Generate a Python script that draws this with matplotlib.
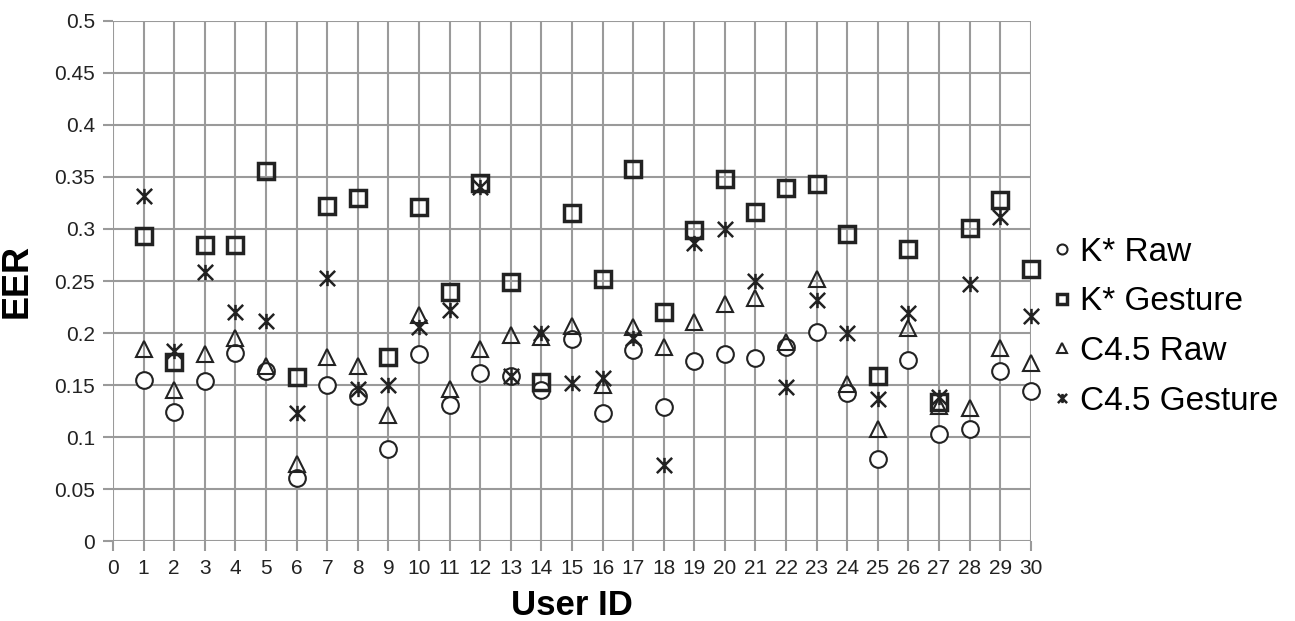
import matplotlib.pyplot as plt
from matplotlib.path import Path

plt.rcParams['font.family'] = ['Liberation Sans', 'DejaVu Sans']

users = list(range(1, 31))

# EER par utilisateur
kstar_raw = [0.155, 0.124, 0.154, 0.181, 0.163, 0.061, 0.150, 0.139, 0.088, 0.180,
             0.131, 0.162, 0.159, 0.145, 0.194, 0.123, 0.184, 0.129, 0.173, 0.180,
             0.176, 0.187, 0.201, 0.142, 0.079, 0.174, 0.103, 0.108, 0.163, 0.144]
kstar_gesture = [0.293, 0.172, 0.285, 0.285, 0.356, 0.158, 0.322, 0.330, 0.177, 0.321,
                 0.239, 0.344, 0.249, 0.153, 0.315, 0.252, 0.358, 0.220, 0.299, 0.348,
                 0.316, 0.339, 0.343, 0.295, 0.159, 0.281, 0.134, 0.301, 0.328, 0.262]
c45_raw = [0.185, 0.145, 0.180, 0.195, 0.168, 0.074, 0.177, 0.168, 0.121, 0.217,
           0.146, 0.185, 0.198, 0.196, 0.207, 0.150, 0.206, 0.187, 0.211, 0.228,
           0.234, 0.191, 0.252, 0.151, 0.108, 0.205, 0.130, 0.128, 0.186, 0.171]
c45_gesture = [0.332, 0.183, 0.259, 0.220, 0.212, 0.123, 0.253, 0.146, 0.150, 0.206,
               0.222, 0.340, 0.159, 0.200, 0.152, 0.157, 0.195, 0.073, 0.287, 0.300,
               0.250, 0.148, 0.232, 0.200, 0.137, 0.219, 0.138, 0.247, 0.312, 0.216]

# marqueur "étoile" façon Excel : un x plus un trait vertical
star = Path([(-1, -1), (1, 1), (-1, 1), (1, -1), (0, -1), (0, 1)],
            [Path.MOVETO, Path.LINETO, Path.MOVETO, Path.LINETO, Path.MOVETO, Path.LINETO])

fig = plt.figure(figsize=(12.95, 6.21), dpi=100)
ax = fig.add_axes([0.0873, 0.1288, 0.7087, 0.8374])

ink = '#222222'
ax.plot(users, kstar_raw, ls='none', marker='o', ms=12, mfc='white', mec=ink, mew=1.5,
        label='K* Raw', clip_on=False, zorder=3)
ax.plot(users, kstar_gesture, ls='none', marker='s', ms=12, mfc='none', mec=ink, mew=2.5,
        label='K* Gesture', clip_on=False, zorder=4)
ax.plot(users, c45_raw, ls='none', marker='^', ms=12, mfc='none', mec=ink, mew=1.5,
        label='C4.5 Raw', clip_on=False, zorder=3)
ax.plot(users, c45_gesture, ls='none', marker=star, ms=11, mfc='none', mec=ink, mew=1.8,
        label='C4.5 Gesture', clip_on=False, zorder=3)

ax.set_xlim(0, 30)
ax.set_ylim(0, 0.5)
ax.set_xticks(range(0, 31))
ax.set_yticks([i * 0.05 for i in range(11)])
ax.set_yticklabels(['0', '0.05', '0.1', '0.15', '0.2', '0.25', '0.3', '0.35', '0.4', '0.45', '0.5'])
ax.grid(True, color='#9a9a9a', lw=1.5)
ax.set_axisbelow(True)
for s in ax.spines.values():
    s.set_visible(False)
ax.tick_params(axis='both', colors='#9a9a9a', width=1.5, length=7, labelsize=15,
               labelcolor='#222222', pad=6)

ax.set_xlabel('User ID', fontsize=25, fontweight='bold', labelpad=8)
ax.set_ylabel('EER', fontsize=26, fontweight='bold', labelpad=14)

fig.legend(loc='center left', bbox_to_anchor=(0.812, 0.474), frameon=False, fontsize=24,
           markerscale=0.6, handlelength=0.6, handletextpad=0.25, labelspacing=0.56,
           borderpad=0, borderaxespad=0)

fig.savefig('out.png', dpi=100)
